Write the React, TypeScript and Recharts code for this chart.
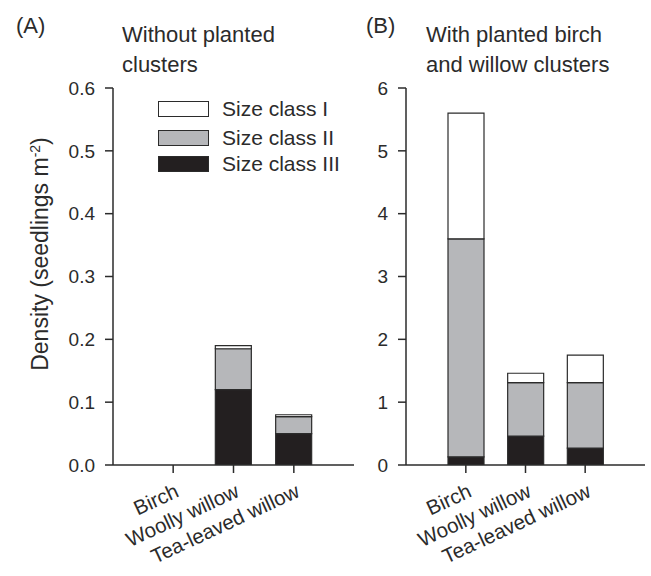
import { Bar, BarChart, XAxis, YAxis } from "recharts";

const species = ["Birch", "Woolly willow", "Tea-leaved willow"];

// panel A: without planted clusters
const aClassI = [0, 0.005, 0.003];
const aClassII = [0, 0.065, 0.027];
const aClassIII = [0, 0.12, 0.05];
const aTicks = [0, 0.1, 0.2, 0.3, 0.4, 0.5, 0.6];

// panel B: with planted birch and willow clusters
const bClassI = [2.0, 0.15, 0.44];
const bClassII = [3.47, 0.85, 1.04];
const bClassIII = [0.13, 0.46, 0.27];
const bTicks = [0, 1, 2, 3, 4, 5, 6];

const classNames = ["Size class I", "Size class II", "Size class III"];

const INK = "#2b2b2b";
const FONT = "Liberation Sans, Arial, sans-serif";
const FILL_I = "#ffffff";
const FILL_II = "#b6b7ba";
const FILL_III = "#231f20";
const classFills = [FILL_I, FILL_II, FILL_III];

function rows(i: number[], ii: number[], iii: number[]) {
  return species.map((name, k) => ({ name, c1: i[k], c2: ii[k], c3: iii[k] }));
}

const SpeciesTick = (props: any) => {
  const { x, y, payload } = props;
  const ax = x + 7;
  const ay = y + 21;
  return (
    <text
      x={ax}
      y={ay}
      textAnchor="end"
      fontSize={20.5}
      fontFamily={FONT}
      fill={INK}
      transform={`rotate(-25 ${ax} ${ay})`}
    >
      {payload.value}
    </text>
  );
};

// legend drawn by hand in panel A
const legendTops = [101, 130, 156];

function LegendBlock() {
  return (
    <>
      {classNames.map((n, k) => (
        <div
          key={n}
          style={{
            position: "absolute",
            left: 158,
            top: legendTops[k],
            height: 16,
            display: "flex",
            alignItems: "center",
            fontFamily: FONT,
            fontSize: 21,
            color: INK,
            whiteSpace: "nowrap",
          }}
        >
          <span
            style={{
              display: "inline-block",
              boxSizing: "border-box",
              width: 51,
              height: 16,
              background: classFills[k],
              border: `1.5px solid ${INK}`,
              marginRight: 13,
            }}
          />
          <span>{n}</span>
        </div>
      ))}
    </>
  );
}

function Panel(props: {
  data: any[];
  ticks: number[];
  max: number;
  fmt: (v: number) => string;
  width: number;
  yWidth: number;
  left: number;
}) {
  const { data, ticks, max, fmt, width, yWidth, left } = props;
  return (
    <BarChart
      width={width}
      height={576}
      data={data}
      margin={{ top: 88, right: 6, bottom: 31, left }}
      barSize={36}
    >
      <XAxis
        dataKey="name"
        padding={{ left: 30, right: 30 }}
        tick={<SpeciesTick />}
        tickSize={8}
        tickLine={{ stroke: INK, strokeWidth: 1.5 }}
        axisLine={{ stroke: INK, strokeWidth: 1.5 }}
        height={80}
        interval={0}
      />
      <YAxis
        domain={[0, max]}
        ticks={ticks}
        tickFormatter={fmt}
        width={yWidth}
        tickSize={8}
        tickMargin={10}
        tick={{ fontSize: 19, fontFamily: FONT, fill: INK }}
        tickLine={{ stroke: INK, strokeWidth: 1.5 }}
        axisLine={{ stroke: INK, strokeWidth: 1.5 }}
        allowDataOverflow
      />
      <Bar dataKey="c3" stackId="s" fill={FILL_III} stroke={INK} strokeWidth={1.2} isAnimationActive={false} />
      <Bar dataKey="c2" stackId="s" fill={FILL_II} stroke={INK} strokeWidth={1.2} isAnimationActive={false} />
      <Bar dataKey="c1" stackId="s" fill={FILL_I} stroke={INK} strokeWidth={1.2} isAnimationActive={false} />
    </BarChart>
  );
}

const label = {
  position: "absolute" as const,
  fontFamily: FONT,
  color: INK,
  fontSize: 22,
  lineHeight: "30px",
  whiteSpace: "nowrap" as const,
};

export default function App() {
  return (
    <div style={{ position: "absolute", left: 0, top: 0, width: 651, height: 576, background: "#fff" }}>
      <div style={{ position: "absolute", left: 0, top: 0 }}>
        <Panel
          data={rows(aClassI, aClassII, aClassIII)}
          ticks={aTicks}
          max={0.6}
          fmt={(v) => v.toFixed(1)}
          width={360}
          yWidth={60}
          left={53}
        />
      </div>
      <div style={{ position: "absolute", left: 360, top: 0 }}>
        <Panel
          data={rows(bClassI, bClassII, bClassIII)}
          ticks={bTicks}
          max={6}
          fmt={(v) => String(v)}
          width={291}
          yWidth={40}
          left={6}
        />
      </div>
      <LegendBlock />
      <svg width={60} height={576} style={{ position: "absolute", left: 0, top: 0 }}>
        <text
          transform="translate(48 254) rotate(-90)"
          textAnchor="middle"
          fontSize={23}
          fontFamily={FONT}
          fill={INK}
        >
          Density (seedlings m
          <tspan baselineShift="super" fontSize={14}>-2</tspan>
          <tspan>)</tspan>
        </text>
      </svg>
      <div style={{ ...label, left: 16, top: 11 }}>(A)</div>
      <div style={{ ...label, left: 122, top: 20 }}>
        Without planted
        <br />
        clusters
      </div>
      <div style={{ ...label, left: 366, top: 11 }}>(B)</div>
      <div style={{ ...label, left: 426, top: 20 }}>
        With planted birch
        <br />
        and willow clusters
      </div>
    </div>
  );
}
